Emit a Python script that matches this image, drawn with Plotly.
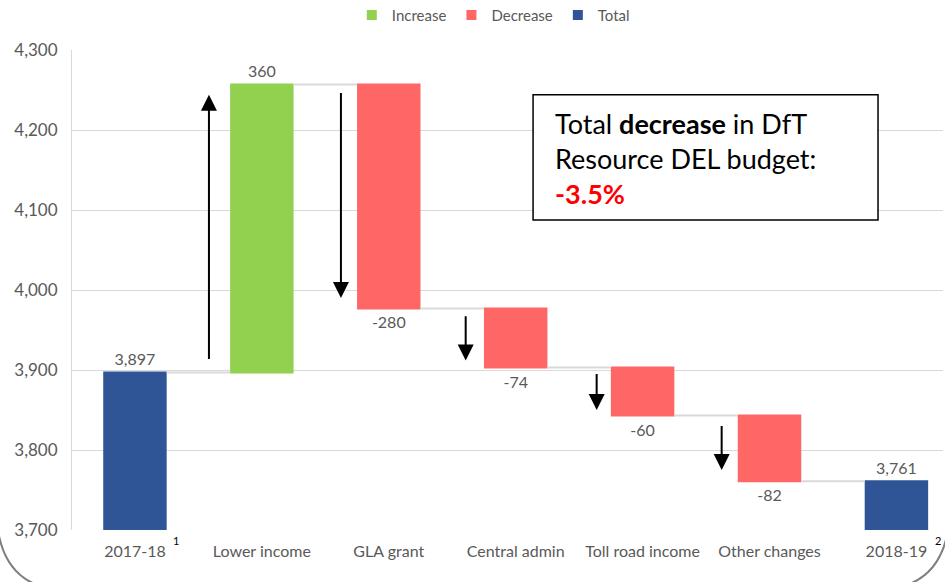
import plotly.graph_objects as go

categories = ["2017-18", "Lower income", "GLA grant", "Central admin",
              "Toll road income", "Other changes", "2018-19"]
measures = ["absolute", "relative", "relative", "relative", "relative", "relative", "total"]
values = [3897, 360, -280, -74, -60, -82, 3761]
value_labels = [f"{v:,}" for v in values]

legend_names = ["Increase", "Decrease", "Total"]
col_inc, col_dec, col_tot = "#92D050", "#FF6666", "#2F5597"
legend_colors = [col_inc, col_dec, col_tot]

FONT = "Lato"
GREY = "#595959"

fig = go.Figure()
fig.add_trace(go.Waterfall(
    x=categories, y=values, measure=measures,
    text=value_labels, textposition="outside",
    textfont=dict(family=FONT, size=16, color=GREY),
    increasing=dict(marker=dict(color=col_inc, line=dict(width=0))),
    decreasing=dict(marker=dict(color=col_dec, line=dict(width=0))),
    totals=dict(marker=dict(color=col_tot, line=dict(width=0))),
    connector=dict(line=dict(color="#D9D9D9", width=2)),
    width=0.5, showlegend=False, cliponaxis=False,
))
for name, c in zip(legend_names, legend_colors):
    fig.add_trace(go.Scatter(x=[None], y=[None], mode="markers", name=name,
                             marker=dict(symbol="square", size=10, color=c)))

# arrows: (x, y_tail, y_head)
arrows = [(0.583, 3912, 4244), (1.623, 4248, 3990), (2.606, 3969, 3912),
          (3.638, 3897, 3850), (4.623, 3832, 3775)]
for x, y0, y1 in arrows:
    fig.add_annotation(x=x, y=y1, ax=x, ay=y0, xref="x", yref="y", axref="x", ayref="y",
                       showarrow=True, arrowhead=2, arrowsize=1.6, arrowwidth=2,
                       arrowcolor="black", text="")

# callout box
fig.add_shape(type="rect", xref="x", yref="y", x0=3.137, x1=5.855, y0=4087.5, y1=4244,
              line=dict(color="black", width=1.5), fillcolor="white", layer="above")
fig.add_annotation(xref="x", yref="y", x=3.294, y=4165, xanchor="left", yanchor="middle",
                   align="left", showarrow=False,
                   text="Total <b>decrease</b> in DfT<br>Resource DEL budget:<br>"
                        "<b><span style='color:#FF0000'>-3.5%</span></b>",
                   font=dict(family=FONT, size=27, color="black"))

# footnote superscripts
for x, t in [(0.323, "1"), (6.33, "2")]:
    fig.add_annotation(xref="x", yref="paper", x=x, y=-0.04, text=t, showarrow=False,
                       font=dict(family=FONT, size=11, color="black"))

# rounded frame corners (pixel -> paper)
def px(x):
    return (x - 72) / (943 - 72)
def py(y):
    return (530 - y) / (530 - 50)
fig.add_shape(type="path", xref="paper", yref="paper", layer="above",
              path=f"M {px(-4)},{py(450)} L {px(-4)},{py(505)} Q {px(-4)},{py(590)} {px(68)},{py(590)} "
                   f"L {px(875)},{py(590)} Q {px(950)},{py(590)} {px(950)},{py(505)} L {px(950)},{py(450)}",
              line=dict(color="#7F7F7F", width=2))

fig.update_layout(
    width=945, height=582,
    margin=dict(l=72, r=2, t=50, b=52, autoexpand=False),
    plot_bgcolor="white", paper_bgcolor="white",
    font=dict(family=FONT, color=GREY),
    legend=dict(orientation="h", xref="container", yref="container",
                x=0.522, xanchor="center", y=0.974, yanchor="middle",
                font=dict(family=FONT, size=15, color=GREY), itemwidth=30,
                tracegroupgap=0),
    xaxis=dict(range=[-0.496, 6.367], showgrid=False, showline=False, ticks="",
               ticklabelstandoff=10,
               tickfont=dict(family=FONT, size=16, color=GREY)),
    yaxis=dict(range=[3700, 4300], dtick=100, tickformat=",", showgrid=True,
               gridcolor="#D9D9D9", gridwidth=1, showline=True, linecolor="#D9D9D9",
               zeroline=False, ticks="", ticklabelstandoff=10,
               tickfont=dict(family=FONT, size=17, color=GREY)),
)
fig.write_html("out.html")
